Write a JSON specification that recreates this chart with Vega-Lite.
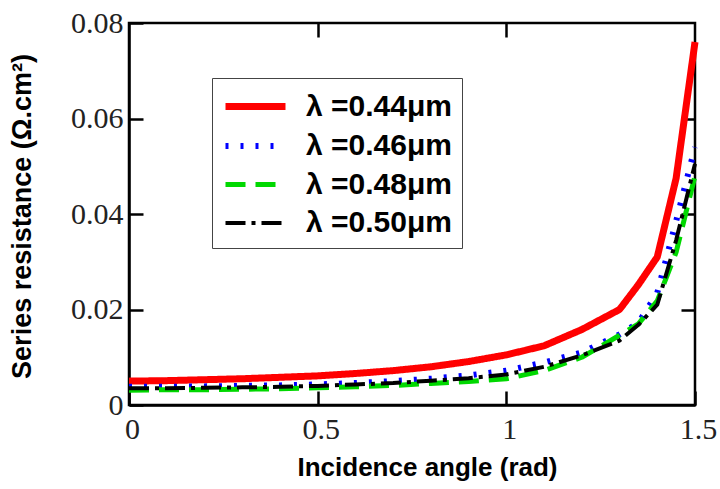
{
  "$schema": "https://vega.github.io/schema/vega-lite/v6.json",
  "width": 566,
  "height": 382,
  "autosize": {"type": "none"},
  "padding": {"left": 129, "top": 23, "right": 25, "bottom": 84},
  "background": "white",
  "config": {"view": {"stroke": "black", "strokeWidth": 2.5}},
  "data": {"values": [
    {"series": "λ =0.44μm", "angle": 0, "rs": 0.0050},
    {"series": "λ =0.44μm", "angle": 0.1, "rs": 0.0051},
    {"series": "λ =0.44μm", "angle": 0.2, "rs": 0.0053},
    {"series": "λ =0.44μm", "angle": 0.3, "rs": 0.0055},
    {"series": "λ =0.44μm", "angle": 0.4, "rs": 0.0058},
    {"series": "λ =0.44μm", "angle": 0.5, "rs": 0.0061},
    {"series": "λ =0.44μm", "angle": 0.6, "rs": 0.0066},
    {"series": "λ =0.44μm", "angle": 0.7, "rs": 0.0072},
    {"series": "λ =0.44μm", "angle": 0.8, "rs": 0.0080},
    {"series": "λ =0.44μm", "angle": 0.9, "rs": 0.0091},
    {"series": "λ =0.44μm", "angle": 1.0, "rs": 0.0105},
    {"series": "λ =0.44μm", "angle": 1.1, "rs": 0.0124},
    {"series": "λ =0.44μm", "angle": 1.2, "rs": 0.0158},
    {"series": "λ =0.44μm", "angle": 1.3, "rs": 0.0200},
    {"series": "λ =0.44μm", "angle": 1.35, "rs": 0.0252},
    {"series": "λ =0.44μm", "angle": 1.4, "rs": 0.0310},
    {"series": "λ =0.44μm", "angle": 1.45, "rs": 0.0475},
    {"series": "λ =0.44μm", "angle": 1.5, "rs": 0.0760},
    {"series": "λ =0.46μm", "angle": 0, "rs": 0.0038},
    {"series": "λ =0.46μm", "angle": 0.1, "rs": 0.0038},
    {"series": "λ =0.46μm", "angle": 0.2, "rs": 0.0039},
    {"series": "λ =0.46μm", "angle": 0.3, "rs": 0.0040},
    {"series": "λ =0.46μm", "angle": 0.4, "rs": 0.0041},
    {"series": "λ =0.46μm", "angle": 0.5, "rs": 0.0043},
    {"series": "λ =0.46μm", "angle": 0.6, "rs": 0.0046},
    {"series": "λ =0.46μm", "angle": 0.7, "rs": 0.0050},
    {"series": "λ =0.46μm", "angle": 0.8, "rs": 0.0055},
    {"series": "λ =0.46μm", "angle": 0.9, "rs": 0.0062},
    {"series": "λ =0.46μm", "angle": 1.0, "rs": 0.0072},
    {"series": "λ =0.46μm", "angle": 1.1, "rs": 0.0089},
    {"series": "λ =0.46μm", "angle": 1.2, "rs": 0.0110},
    {"series": "λ =0.46μm", "angle": 1.3, "rs": 0.0148},
    {"series": "λ =0.46μm", "angle": 1.35, "rs": 0.0172},
    {"series": "λ =0.46μm", "angle": 1.4, "rs": 0.0235},
    {"series": "λ =0.46μm", "angle": 1.45, "rs": 0.0385},
    {"series": "λ =0.46μm", "angle": 1.5, "rs": 0.0540},
    {"series": "λ =0.48μm", "angle": 0, "rs": 0.0031},
    {"series": "λ =0.48μm", "angle": 0.1, "rs": 0.0032},
    {"series": "λ =0.48μm", "angle": 0.2, "rs": 0.0032},
    {"series": "λ =0.48μm", "angle": 0.3, "rs": 0.0033},
    {"series": "λ =0.48μm", "angle": 0.4, "rs": 0.0034},
    {"series": "λ =0.48μm", "angle": 0.5, "rs": 0.0036},
    {"series": "λ =0.48μm", "angle": 0.6, "rs": 0.0038},
    {"series": "λ =0.48μm", "angle": 0.7, "rs": 0.0041},
    {"series": "λ =0.48μm", "angle": 0.8, "rs": 0.0045},
    {"series": "λ =0.48μm", "angle": 0.9, "rs": 0.0049},
    {"series": "λ =0.48μm", "angle": 1.0, "rs": 0.0055},
    {"series": "λ =0.48μm", "angle": 1.1, "rs": 0.0072},
    {"series": "λ =0.48μm", "angle": 1.2, "rs": 0.0100},
    {"series": "λ =0.48μm", "angle": 1.3, "rs": 0.0146},
    {"series": "λ =0.48μm", "angle": 1.35, "rs": 0.0170},
    {"series": "λ =0.48μm", "angle": 1.4, "rs": 0.0218},
    {"series": "λ =0.48μm", "angle": 1.45, "rs": 0.0320},
    {"series": "λ =0.48μm", "angle": 1.5, "rs": 0.0480},
    {"series": "λ =0.50μm", "angle": 0, "rs": 0.0035},
    {"series": "λ =0.50μm", "angle": 0.1, "rs": 0.0035},
    {"series": "λ =0.50μm", "angle": 0.2, "rs": 0.0036},
    {"series": "λ =0.50μm", "angle": 0.3, "rs": 0.0037},
    {"series": "λ =0.50μm", "angle": 0.4, "rs": 0.0038},
    {"series": "λ =0.50μm", "angle": 0.5, "rs": 0.0040},
    {"series": "λ =0.50μm", "angle": 0.6, "rs": 0.0043},
    {"series": "λ =0.50μm", "angle": 0.7, "rs": 0.0046},
    {"series": "λ =0.50μm", "angle": 0.8, "rs": 0.0051},
    {"series": "λ =0.50μm", "angle": 0.9, "rs": 0.0056},
    {"series": "λ =0.50μm", "angle": 1.0, "rs": 0.0064},
    {"series": "λ =0.50μm", "angle": 1.1, "rs": 0.0080},
    {"series": "λ =0.50μm", "angle": 1.2, "rs": 0.0104},
    {"series": "λ =0.50μm", "angle": 1.3, "rs": 0.0135},
    {"series": "λ =0.50μm", "angle": 1.35, "rs": 0.0168},
    {"series": "λ =0.50μm", "angle": 1.4, "rs": 0.0210},
    {"series": "λ =0.50μm", "angle": 1.45, "rs": 0.0345},
    {"series": "λ =0.50μm", "angle": 1.5, "rs": 0.0505}
  ]},
  "layer": [
    {
      "mark": {"type": "line", "strokeCap": "butt", "strokeJoin": "round"},
      "encoding": {
        "x": {"field": "angle", "type": "quantitative",
          "scale": {"domain": [0, 1.5], "nice": false, "zero": false},
          "axis": {"orient": "bottom", "values": [0, 0.5, 1, 1.5], "format": "~g", "grid": false,
            "tickSize": -14, "tickColor": "black", "tickWidth": 2.5,
            "domainColor": "black", "domainWidth": 2.5,
            "labelFont": "Liberation Serif", "labelFontSize": 30, "labelColor": "#222",
            "labelPadding": 23, "labelFlush": false, "labelOverlap": false, "labelBound": false,
            "labelOffset": 3,
            "title": "Incidence angle (rad)", "titleFont": "Liberation Sans", "titleFontSize": 26,
            "titleFontWeight": "bold", "titleColor": "black",
            "titleX": 298, "titleY": 62, "titleBaseline": "middle", "titleAlign": "center"}},
        "y": {"field": "rs", "type": "quantitative",
          "scale": {"domain": [0, 0.08], "nice": false},
          "axis": {"orient": "left", "values": [0, 0.02, 0.04, 0.06, 0.08], "format": "~g", "grid": false,
            "tickSize": -14, "tickColor": "black", "tickWidth": 2.5,
            "domainColor": "black", "domainWidth": 2.5,
            "labelFont": "Liberation Serif", "labelFontSize": 30, "labelColor": "#222",
            "labelPadding": 20, "labelOverlap": false, "labelBound": false, "labelFlush": false,
            "title": "Series resistance (Ω.cm²)", "titleFont": "Liberation Sans", "titleFontSize": 27,
            "titleFontWeight": "bold", "titleColor": "black",
            "titleX": -107, "titleY": 193, "titleAngle": 270, "titleBaseline": "middle", "titleAlign": "center"}},
        "color": {"field": "series", "type": "nominal",
          "scale": {"domain": ["λ =0.44μm", "λ =0.46μm", "λ =0.48μm", "λ =0.50μm"],
                    "range": ["#ff0000", "#0000ff", "#00d800", "#000000"]},
          "legend": {"orient": "none", "legendX": 83, "legendY": 55, "title": null,
            "symbolType": "M-1,0H3", "symbolSize": 900,
            "labelFont": "Liberation Sans", "labelFontWeight": "bold", "labelFontSize": 30,
            "labelColor": "black", "labelOffset": 47, "padding": 10, "rowPadding": 6,
            "strokeColor": "#444", "fillColor": "white"}},
        "strokeDash": {"field": "series", "type": "nominal",
          "scale": {"domain": ["λ =0.44μm", "λ =0.46μm", "λ =0.48μm", "λ =0.50μm"],
                    "range": [[1, 0], [3, 12], [20, 10], [20, 6, 4, 6]]},
          "legend": {"orient": "none", "legendX": 83, "legendY": 55, "title": null,
            "symbolType": "M-1,0H3", "symbolSize": 900,
            "labelFont": "Liberation Sans", "labelFontWeight": "bold", "labelFontSize": 30,
            "labelColor": "black", "labelOffset": 47, "padding": 10, "rowPadding": 6,
            "strokeColor": "#444", "fillColor": "white"}},
        "strokeWidth": {"field": "series", "type": "nominal",
          "scale": {"domain": ["λ =0.44μm", "λ =0.46μm", "λ =0.48μm", "λ =0.50μm"],
                    "range": [7, 4, 6, 6]},
          "legend": {"orient": "none", "legendX": 83, "legendY": 55, "title": null,
            "symbolType": "M-1,0H3", "symbolSize": 900,
            "labelFont": "Liberation Sans", "labelFontWeight": "bold", "labelFontSize": 30,
            "labelColor": "black", "labelOffset": 47, "padding": 10, "rowPadding": 6,
            "strokeColor": "#444", "fillColor": "white"}}
      }
    },
    {
      "mark": {"type": "line", "opacity": 0},
      "encoding": {
        "x": {"field": "angle", "type": "quantitative",
          "axis": {"orient": "top", "values": [0.5, 1], "labels": false, "grid": false, "title": null,
            "tickSize": -14, "tickColor": "black", "tickWidth": 2.5, "domain": false}},
        "y": {"field": "rs", "type": "quantitative",
          "axis": {"orient": "right", "values": [0.02, 0.04, 0.06], "labels": false, "grid": false, "title": null,
            "tickSize": -14, "tickColor": "black", "tickWidth": 2.5, "domain": false}},
        "detail": {"field": "series", "type": "nominal"}
      }
    }
  ],
  "resolve": {"axis": {"x": "independent", "y": "independent"}}
}
